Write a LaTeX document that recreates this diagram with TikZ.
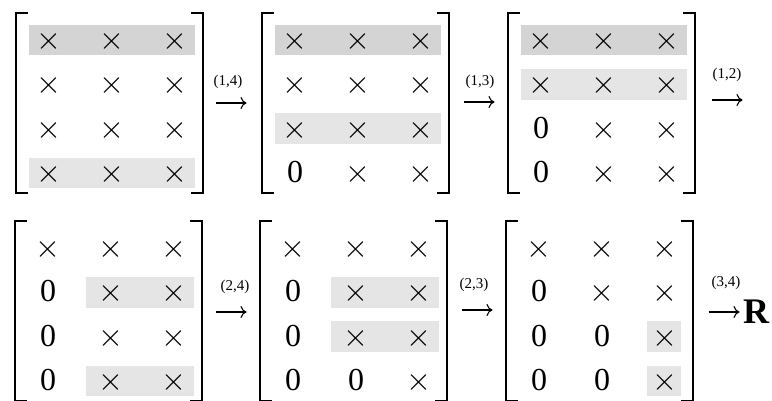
\RequirePackage{fix-cm}
\documentclass[tikz,border=0pt]{standalone}
\usepackage{fontspec}
\setmainfont{Liberation Serif}
\usetikzlibrary{matrix,backgrounds,arrows.meta}

\colorlet{pivotgray}{black!17}
\colorlet{rowgray}{black!10}

% nonzero entry
\newcommand{\nz}{$\times$}

\tikzset{
  entry/.style={minimum width=40pt, minimum height=30pt, inner sep=0pt,
    text height=19pt, text depth=0pt, font=\fontsize{32}{32}\selectfont},
  givens/.style={matrix of nodes, nodes={entry}, column sep=23pt,
    row sep=14.3pt, inner sep=0pt},
  brak/.style={line width=1.8pt},
  rotarrow/.style={line width=1.1pt, -{To[length=6pt, width=12pt]}},
  rotlabel/.style={inner sep=0pt, font=\fontsize{15}{15}\selectfont},
}

\begin{document}
\begin{tikzpicture}[x=1pt, y=-1pt]
        \useasboundingbox (0,0) rectangle (772,401);

        \def\upper{106.5}
        \def\lower{314.5}

        % First line
        \matrix (m1) [givens] at (112,\upper) {
          \nz & \nz & \nz \\
          \nz & \nz & \nz \\
          \nz & \nz & \nz \\
          \nz & \nz & \nz \\
        };
        \matrix (m2) [givens] at (358,\upper) {
          \nz & \nz & \nz \\
          \nz & \nz & \nz \\
          \nz & \nz & \nz \\
          0   & \nz & \nz \\
        };
        \matrix (m3) [givens] at (604,\upper) {
          \nz & \nz & \nz \\
          \nz & \nz & \nz \\
          0   & \nz & \nz \\
          0   & \nz & \nz \\
        };

        % Second line
        \matrix (m4) [givens] at (111,\lower) {
          \nz & \nz & \nz \\
          0   & \nz & \nz \\
          0   & \nz & \nz \\
          0   & \nz & \nz \\
        };
        \matrix (m5) [givens] at (356,\lower) {
          \nz & \nz & \nz \\
          0   & \nz & \nz \\
          0   & \nz & \nz \\
          0   & 0   & \nz \\
        };
        \matrix (m6) [givens] at (602,\lower) {
          \nz & \nz & \nz \\
          0   & \nz & \nz \\
          0   & 0   & \nz \\
          0   & 0   & \nz \\
        };

        % Brackets
        \foreach \m in {m1,m2,m3,m4,m5,m6} {
          \draw[brak] ([xshift=-1pt,yshift=12pt]\m.north west) -- ++(-12,0)
            |- ([xshift=-13pt,yshift=-5pt]\m.south west) -- ++(12,0);
          \draw[brak] ([xshift=-4pt,yshift=12pt]\m.north east) -- ++(12,0)
            |- ([xshift=8pt,yshift=-5pt]\m.south east) -- ++(-12,0);
        }

        % Rows being rotated
        \begin{scope}[on background layer]
          \fill[pivotgray] (m1-1-1.north west) rectangle (m1-1-3.south east);
          \fill[rowgray] (m1-4-1.north west) rectangle (m1-4-3.south east);
          \fill[pivotgray] (m2-1-1.north west) rectangle (m2-1-3.south east);
          \fill[rowgray] (m2-3-1.north west) rectangle (m2-3-3.south east);
          \fill[pivotgray] (m3-1-1.north west) rectangle (m3-1-3.south east);
          \fill[rowgray] (m3-2-1.north west) rectangle (m3-2-3.south east);
          \fill[rowgray] ([xshift=-5pt]m4-2-2.north west) rectangle (m4-2-3.south east);
          \fill[rowgray] ([xshift=-5pt]m4-4-2.north west) rectangle (m4-4-3.south east);
          \fill[rowgray] ([xshift=-5pt]m5-2-2.north west) rectangle (m5-2-3.south east);
          \fill[rowgray] ([xshift=-5pt]m5-3-2.north west) rectangle (m5-3-3.south east);
          \fill[rowgray] ([xshift=2pt]m6-3-3.north west) rectangle ([xshift=-4pt]m6-3-3.south east);
          \fill[rowgray] ([xshift=2pt]m6-4-3.north west) rectangle ([xshift=-4pt]m6-4-3.south east);
        \end{scope}

        % Rotations
        \foreach \p/\x/\y in {14/231/103, 13/479/102, 12/727/100,
                              24/231/312, 23/477/310, 34/724/312} {
          \coordinate (s\p) at (\x-15.5,\y);
          \coordinate (t\p) at (\x+15.5,\y);
          \draw[rotarrow] (s\p) -- (t\p);
        }

        \node[rotlabel] (l14) at (228,82) {(1,4)};
        \node[rotlabel] (l13) at (480,82) {(1,3)};
        \node[rotlabel] (l12) at (727,75) {(1,2)};
        \node[rotlabel] (l24) at (235,287) {(2,4)};
        \node[rotlabel] (l23) at (474,285) {(2,3)};
        \node[rotlabel] (l34) at (726,283) {(3,4)};

        \node[inner sep=0pt, font=\fontsize{36}{36}\selectfont\bfseries] (R) at (756,312) {R};
\end{tikzpicture}
\end{document}
